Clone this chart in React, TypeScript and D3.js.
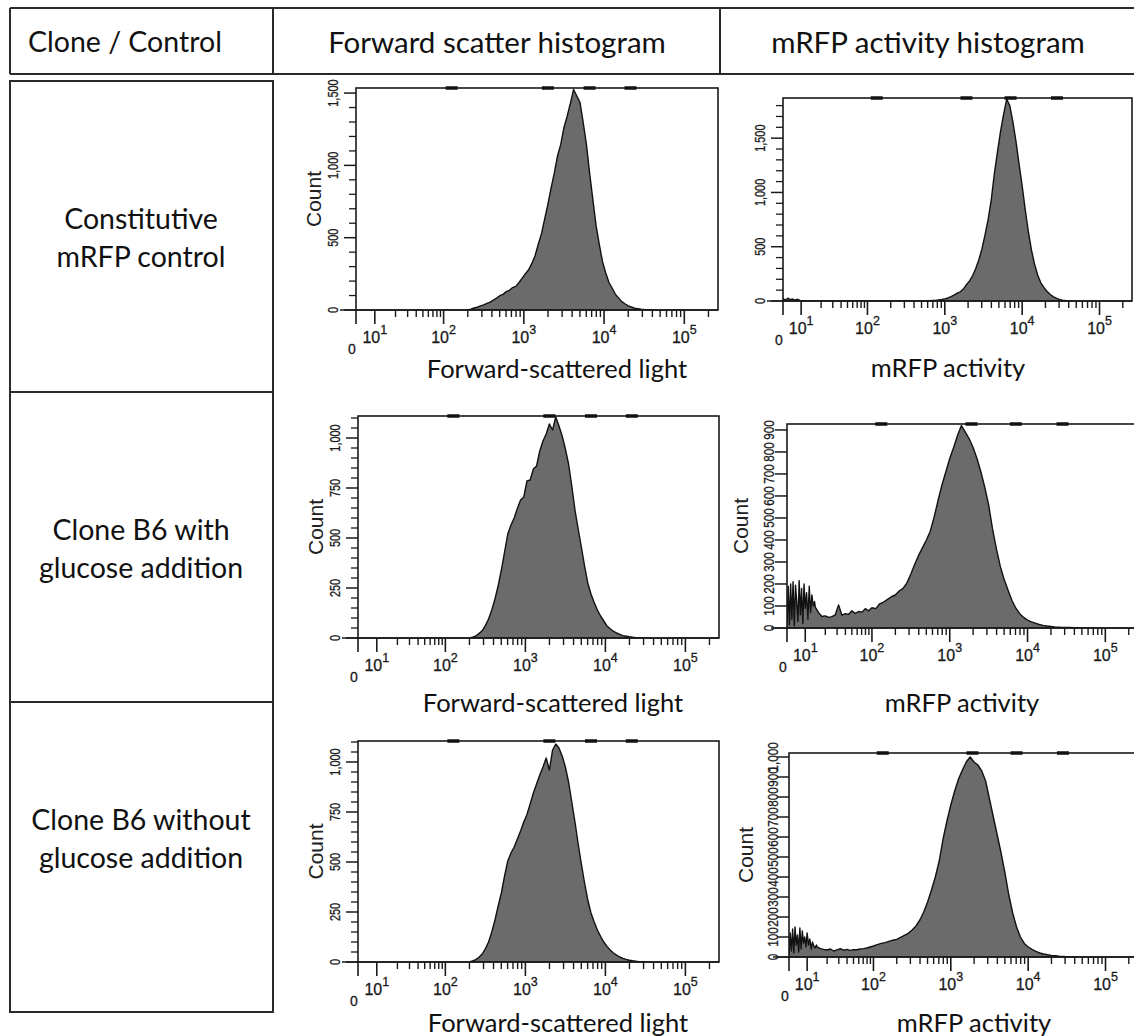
import * as d3 from 'd3'

const TEXT_FONT = 'Lato, "Open Sans", sans-serif'
const AXIS_FONT = '"Liberation Sans", Arial, sans-serif'

// table text
const headers = ['Clone / Control', 'Forward scatter histogram', 'mRFP activity histogram']
const rowLabels = [
  ['Constitutive', 'mRFP control'],
  ['Clone B6 with', 'glucose addition'],
  ['Clone B6 without', 'glucose addition'],
]
const fscTitle = 'Forward-scattered light'
const mrfpTitle = 'mRFP activity'

// x axis: decade exponents shown as 10^n, channel range ends at 262144 (10^5.42)
const decades = [1, 2, 3, 4, 5]
const X_MIN = 0.7
const X_MAX = 5.42

// histogram counts, bins placed in log10(channel) units (start, bin width)
const fscConstStart = 2.3
const fscConstStep = 0.04
const fscConst = [0, 6, 14, 19, 29, 35, 46, 55, 68, 82, 99, 108, 127, 136, 155, 163, 190, 220, 251, 278, 322, 375, 455, 528, 630, 732, 845, 948, 1065, 1145, 1262, 1340, 1428, 1525, 1480, 1436, 1296, 1145, 946, 765, 585, 455, 336, 258, 192, 152, 110, 84, 58, 43, 29, 21, 12, 9, 5, 3, 2, 1, 0]

const mrfpConstLowStart = 0.7
const mrfpConstLowStep = 0.04
const mrfpConstLow = [22, 8, 26, 12, 18, 7, 16, 5, 2, 0]
const mrfpConstStart = 2.8
const mrfpConstStep = 0.04
const mrfpConst = [2, 4, 6, 10, 14, 20, 28, 40, 55, 72, 85, 110, 150, 185, 235, 300, 380, 480, 610, 750, 930, 1170, 1370, 1560, 1720, 1860, 1800, 1650, 1470, 1260, 1060, 840, 640, 470, 340, 240, 170, 125, 90, 62, 40, 26, 15, 8, 4, 2, 0]

const fscWithStart = 2.3
const fscWithStep = 0.04
const fscWith = [0, 4, 10, 22, 36, 62, 95, 140, 195, 262, 340, 430, 520, 565, 600, 648, 690, 705, 785, 790, 845, 860, 935, 985, 1020, 1070, 1040, 1105, 1060, 1010, 945, 870, 760, 640, 545, 455, 360, 275, 220, 178, 140, 110, 85, 60, 46, 34, 25, 18, 12, 9, 6, 4, 2, 1, 0]

const mrfpWithLowStart = 0.7
const mrfpWithLowStep = 0.02
const mrfpWithLow = [5, 190, 15, 200, 40, 210, 10, 195, 120, 30, 215, 60, 180, 20, 200, 90, 160, 40, 190, 70, 150, 100, 120]
const mrfpWithStart = 1.15
const mrfpWithStep = 0.05
const mrfpWith = [95, 70, 52, 55, 48, 52, 60, 105, 58, 65, 62, 78, 66, 75, 72, 88, 78, 92, 88, 110, 118, 130, 142, 150, 168, 180, 205, 245, 290, 330, 365, 400, 440, 505, 580, 650, 710, 770, 820, 875, 920, 890, 860, 820, 770, 710, 640, 560, 450, 360, 280, 220, 172, 125, 90, 65, 48, 36, 28, 22, 16, 12, 9, 7, 5, 4, 3, 2, 2, 1, 1, 0]

const fscWithoutStart = 2.3
const fscWithoutStep = 0.04
const fscWithout = [0, 5, 12, 24, 40, 66, 100, 150, 210, 280, 345, 430, 505, 545, 575, 615, 655, 700, 738, 790, 845, 890, 935, 975, 1020, 960, 1060, 1090, 1070, 1030, 975, 900, 800, 700, 590, 490, 395, 310, 245, 200, 160, 128, 100, 78, 60, 45, 34, 25, 18, 13, 9, 6, 4, 2, 1, 0]

const mrfpWithoutLowStart = 0.7
const mrfpWithoutLowStep = 0.02
const mrfpWithoutLow = [10, 120, 30, 140, 20, 150, 60, 110, 25, 145, 40, 130, 70, 100, 50, 120, 60, 90, 40, 75, 55, 45, 60]
const mrfpWithoutStart = 1.15
const mrfpWithoutStep = 0.05
const mrfpWithout = [50, 42, 38, 35, 40, 30, 36, 42, 34, 38, 33, 37, 36, 40, 42, 45, 50, 55, 62, 68, 72, 78, 84, 88, 98, 108, 118, 135, 155, 185, 225, 275, 335, 400, 480, 590, 680, 760, 830, 890, 935, 975, 1000, 975, 960, 930, 880, 790, 700, 610, 520, 420, 310, 220, 150, 100, 68, 50, 38, 28, 20, 15, 11, 8, 6, 4, 3, 2, 1, 1, 0]

// y tick labels
const fscConstTicks = [0, 500, 1000, 1500]
const mrfpConstTicks = [0, 500, 1000, 1500]
const fscGlucoseTicks = [0, 250, 500, 750, 1000]
const mrfpWithTicks = [0, 100, 200, 300, 400, 500, 600, 700, 800, 900]
const mrfpWithoutTicks = [0, 100, 200, 300, 400, 500, 600, 700, 800, 900, 1000]

// gate markers on the top border (log10 units)
const fscMarks = [2.1, 3.3, 3.82, 4.33]
const mrfpMarks = [2.12, 3.28, 3.85, 4.45]

type Seg = { start: number; step: number; counts: number[] }
type Pt = { lg: number; c: number }

const toPoints = (segs: Seg[]): Pt[] =>
  segs.flatMap(s => s.counts.map((c, i) => ({ lg: s.start + i * s.step, c })))

const panels = [
  { id: 'p1', left: 356, top: 88, right: 718, base: 310, yMax: 1535, yTicks: fscConstTicks, yMinor: 100, labelOff: 23, yFont: 14, countX: 313, title: fscTitle, titleX: 557, titleY: 368, marks: fscMarks,
    segs: [{ start: fscConstStart, step: fscConstStep, counts: fscConst }] },
  { id: 'p2', left: 783, top: 98, right: 1132, base: 301, yMax: 1870, yTicks: mrfpConstTicks, yMinor: 100, labelOff: 23, yFont: 14, countX: 740, title: mrfpTitle, titleX: 948, titleY: 367, marks: mrfpMarks, clipCount: 736,
    segs: [{ start: mrfpConstLowStart, step: mrfpConstLowStep, counts: mrfpConstLow }, { start: mrfpConstStart, step: mrfpConstStep, counts: mrfpConst }] },
  { id: 'p3', left: 358, top: 416, right: 719, base: 638, yMax: 1110, yTicks: fscGlucoseTicks, yMinor: 50, labelOff: 23, yFont: 14, countX: 315, title: fscTitle, titleX: 553, titleY: 702, marks: fscMarks,
    segs: [{ start: fscWithStart, step: fscWithStep, counts: fscWith }] },
  { id: 'p4', left: 787, top: 424, right: 1138, base: 628, yMax: 927, yTicks: mrfpWithTicks, yMinor: 0, labelOff: 19, yFont: 15, countX: 740, title: mrfpTitle, titleX: 962, titleY: 702, marks: mrfpMarks,
    segs: [{ start: mrfpWithLowStart, step: mrfpWithLowStep, counts: mrfpWithLow }, { start: mrfpWithStart, step: mrfpWithStep, counts: mrfpWith }] },
  { id: 'p5', left: 358, top: 741, right: 719, base: 962, yMax: 1105, yTicks: fscGlucoseTicks, yMinor: 50, labelOff: 23, yFont: 14, countX: 315, title: fscTitle, titleX: 558, titleY: 1022, marks: fscMarks,
    segs: [{ start: fscWithoutStart, step: fscWithoutStep, counts: fscWithout }] },
  { id: 'p6', left: 789, top: 753, right: 1138, base: 957, yMax: 1020, yTicks: mrfpWithoutTicks, yMinor: 0, labelOff: 17, yFont: 15, countX: 745, title: mrfpTitle, titleX: 974, titleY: 1022, marks: mrfpMarks,
    segs: [{ start: mrfpWithoutLowStart, step: mrfpWithoutLowStep, counts: mrfpWithoutLow }, { start: mrfpWithoutStart, step: mrfpWithoutStep, counts: mrfpWithout }] },
]

// cytometer tick font is condensed; squeeze Liberation Sans glyph advances
const squeezedWidth = (s: string, fs: number) =>
  s.split('').reduce((acc, ch) => acc + (ch === ',' ? 0.278 : 0.556), 0) * fs * 0.78

function Histogram({ cfg }: { cfg: any }) {
  const { id, left, top, right, base, yMax, yTicks, yMinor, labelOff, yFont, countX, title, titleX, titleY, marks, segs, clipCount } = cfg
  const w = right - left
  const x = d3.scaleLinear()
    .domain([X_MIN, 1, 2, X_MAX])
    .range([left, left + 0.052 * w, left + 0.242 * w, right])
  const y = d3.scaleLinear().domain([0, yMax]).range([base, top])
  const pts = toPoints(segs)
  const area = d3.area<Pt>().x(d => x(d.lg)).y0(base).y1(d => y(d.c))
  const line = d3.line<Pt>().x(d => x(d.lg)).y(d => y(d.c))
  const minorX = decades
    .flatMap(d => d3.range(2, 10).map(k => d + Math.log10(k)))
    .filter(v => v < X_MAX)
  const minorY = yMinor ? d3.range(0, yMax, yMinor).filter(v => !yTicks.includes(v)) : []
  const fmt = d3.format(',')
  const midY = (top + base) / 2
  const ink = '#1a1a1a'

  return (
    <g>
      <clipPath id={`clip-${id}`}>
        <rect x={left} y={top} width={w} height={base - top} />
      </clipPath>
      {clipCount && (
        <clipPath id={`clipc-${id}`}>
          <rect x={clipCount} y={top} width={100} height={base - top} />
        </clipPath>
      )}
      <path d={area(pts) || ''} fill="#6b6b6b" clipPath={`url(#clip-${id})`} />
      <path d={line(pts) || ''} fill="none" stroke="#111" strokeWidth={1.4} strokeLinejoin="round" clipPath={`url(#clip-${id})`} />
      <rect x={left} y={top} width={w} height={base - top} fill="none" stroke={ink} strokeWidth={1.6} />
      {marks.map((m: number) => (
        <line key={m} x1={x(m) - 6} x2={x(m) + 6} y1={top} y2={top} stroke="#111" strokeWidth={3.5} />
      ))}

      {/* x axis */}
      <line x1={left - 16} x2={right} y1={base} y2={base} stroke={ink} strokeWidth={1.6} />
      <line x1={left} x2={left} y1={base} y2={base + 14} stroke={ink} strokeWidth={1.6} />
      {decades.map(d => (
        <line key={d} x1={x(d)} x2={x(d)} y1={base} y2={base + 14} stroke={ink} strokeWidth={1.6} />
      ))}
      {minorX.map(v => (
        <line key={v} x1={x(v)} x2={x(v)} y1={base} y2={base + 7} stroke={ink} strokeWidth={1.4} />
      ))}
      {decades.map(d => (
        <text key={d} x={x(d)} y={base + 33} textAnchor="middle" fontFamily={AXIS_FONT} fontSize={16}
          fill={ink} stroke={ink} strokeWidth={0.3}>
          10<tspan dy={-9} fontSize={12.5}>{d}</tspan>
        </text>
      ))}
      <text x={left - 4} y={base + 44} textAnchor="middle" fontFamily={AXIS_FONT} fontSize={14} fill={ink} stroke={ink} strokeWidth={0.3}>0</text>

      {/* y axis */}
      {yTicks.map((v: number) => (
        <line key={v} x1={left - 12} x2={left} y1={y(v)} y2={y(v)} stroke={ink} strokeWidth={1.5} />
      ))}
      {minorY.map(v => (
        <line key={v} x1={left - 7} x2={left} y1={y(v)} y2={y(v)} stroke={ink} strokeWidth={1.3} />
      ))}
      {yTicks.map((v: number) => (
        <text key={v} transform={`translate(${left - labelOff},${y(v)}) rotate(-90)`} textAnchor="middle" dominantBaseline="central"
          fontFamily={AXIS_FONT} fontSize={yFont} fill={ink} stroke={ink} strokeWidth={0.3}
          textLength={squeezedWidth(fmt(v), yFont)} lengthAdjust="spacingAndGlyphs">{fmt(v)}</text>
      ))}
      <text transform={`translate(${countX},${midY}) rotate(-90)`} textAnchor="middle" dominantBaseline="central"
        fontFamily={AXIS_FONT} fontSize={21} fill="#222" clipPath={clipCount ? `url(#clipc-${id})` : undefined}>Count</text>

      <text x={titleX} y={titleY} textAnchor="middle" dominantBaseline="central" fontFamily={TEXT_FONT} fontSize={25.5} fill="#111">{title}</text>
    </g>
  )
}

export default function App() {
  const rowTops = [81, 392, 702]
  const rowBottom = 1012
  const rowCenters = [237, 548, 838]
  return (
    <svg width={1134} height={1036} style={{ position: 'absolute', left: 0, top: 0, background: '#fff' }}>
      <rect width={1134} height={1036} fill="#fff" />
      {/* header table */}
      <g stroke="#2a2a2a" strokeWidth={2}>
        <line x1={10} x2={1134} y1={8} y2={8} />
        <line x1={10} x2={1134} y1={74} y2={74} />
        <line x1={10} x2={10} y1={8} y2={74} />
        <line x1={273} x2={273} y1={8} y2={74} />
        <line x1={720} x2={720} y1={8} y2={74} />
      </g>
      <text x={28} y={41} dominantBaseline="central" fontFamily={TEXT_FONT} fontSize={28.5} fill="#111">{headers[0]}</text>
      <text x={497} y={41} textAnchor="middle" dominantBaseline="central" fontFamily={TEXT_FONT} fontSize={29.5} fill="#111">{headers[1]}</text>
      <text x={928} y={41} textAnchor="middle" dominantBaseline="central" fontFamily={TEXT_FONT} fontSize={29.5} fill="#111">{headers[2]}</text>

      {/* row label column */}
      <g stroke="#2a2a2a" strokeWidth={2} fill="none">
        <rect x={10} y={rowTops[0]} width={263} height={rowBottom - rowTops[0]} />
        <line x1={10} x2={273} y1={rowTops[1]} y2={rowTops[1]} />
        <line x1={10} x2={273} y1={rowTops[2]} y2={rowTops[2]} />
      </g>
      {rowLabels.map((lines, i) => (
        <text key={i} x={141} y={rowCenters[i]} textAnchor="middle" fontFamily={TEXT_FONT} fontSize={28.5} fill="#111">
          <tspan x={141} dy={-19} dominantBaseline="central">{lines[0]}</tspan>
          <tspan x={141} dy={38} dominantBaseline="central">{lines[1]}</tspan>
        </text>
      ))}

      {panels.map(p => <Histogram key={p.id} cfg={p} />)}
    </svg>
  )
}
